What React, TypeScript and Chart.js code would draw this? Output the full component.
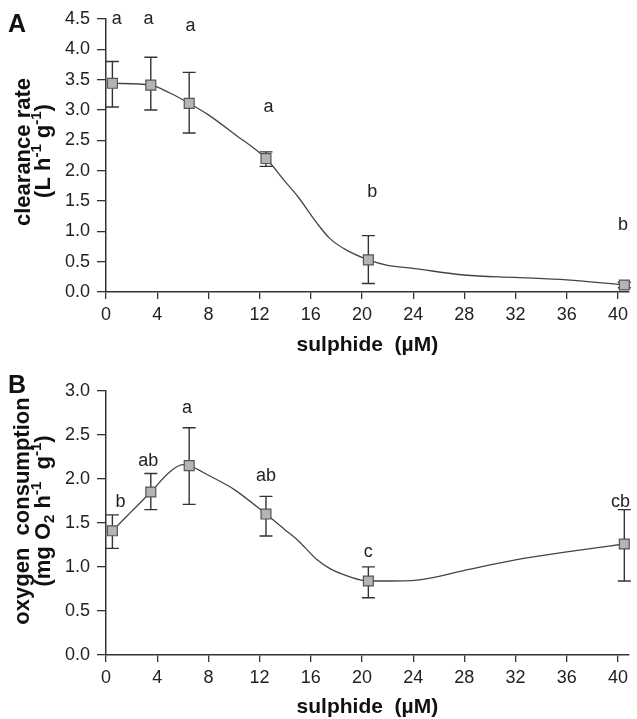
import React, { useEffect, useRef } from 'react';
import { Chart, registerables } from 'chart.js';

Chart.register(...registerables);

const FONT = "'Liberation Sans', Arial, Helvetica, sans-serif";

// ---------- data ----------
const sulphideDoses = [0.5, 3.5, 6.5, 12.5, 20.5, 40.5];
const xTickStep = 4;

// Panel A: clearance rate
const clearanceMean = [3.44, 3.41, 3.11, 2.2, 0.53, 0.115];
const clearanceLow = [3.05, 3.0, 2.62, 2.07, 0.14, 0.07];
const clearanceHigh = [3.8, 3.87, 3.62, 2.31, 0.93, 0.16];
const clearanceFitX = [0.5, 3.5, 5, 6.5, 8, 10, 12.5, 14, 15, 16.5, 17.5, 18.8, 20.5, 22, 24, 28, 32, 36, 40.5];
const clearanceFitY = [3.44, 3.41, 3.28, 3.11, 2.92, 2.61, 2.2, 1.82, 1.57, 1.13, 0.88, 0.69, 0.53, 0.44, 0.39, 0.28, 0.24, 0.2, 0.115];
const clearanceLetters = ['a', 'a', 'a', 'a', 'b', 'b'];
const clearanceLetterX = [0.85, 3.33, 6.6, 12.7, 20.8, 40.4];
const clearanceLetterY = [4.415, 4.415, 4.3, 2.96, 1.57, 1.02];
const clearanceTitle = ['clearance rate', '(L h^{-1} g^{-1})'];

// Panel B: oxygen consumption
const oxygenMean = [1.41, 1.85, 2.15, 1.6, 0.84, 1.26];
const oxygenLow = [1.21, 1.65, 1.71, 1.35, 0.65, 0.84];
const oxygenHigh = [1.59, 2.06, 2.58, 1.8, 1.0, 1.65];
const oxygenFitX = [0.5, 2, 3.5, 5, 6, 6.5, 8, 10, 12.5, 14, 15, 16.5, 17.5, 19, 20.5, 22, 24.3, 28, 32, 36, 40.5];
const oxygenFitY = [1.41, 1.63, 1.85, 2.08, 2.16, 2.15, 2.04, 1.88, 1.6, 1.42, 1.3, 1.08, 0.98, 0.89, 0.84, 0.84, 0.85, 0.96, 1.08, 1.17, 1.26];
const oxygenLetters = ['b', 'ab', 'a', 'ab', 'c', 'cb'];
const oxygenLetterX = [1.13, 3.3, 6.33, 12.5, 20.5, 40.2];
const oxygenLetterY = [1.68, 2.145, 2.75, 1.97, 1.11, 1.68];
const oxygenTitle = ['oxygen  consumption', '(mg O_{2} h^{-1}  g^{-1})'];

const xAxisTitle = 'sulphide  (µM)';

// ---------- helpers ----------
type Seg = { t: string; k: 'n' | 'sup' | 'sub' };
function parseRich(s: string): Seg[] {
  const out: Seg[] = [];
  let buf = '';
  let i = 0;
  while (i < s.length) {
    if ((s[i] === '^' || s[i] === '_') && s[i + 1] === '{') {
      if (buf) { out.push({ t: buf, k: 'n' }); buf = ''; }
      const end = s.indexOf('}', i);
      out.push({ t: s.slice(i + 2, end), k: s[i] === '^' ? 'sup' : 'sub' });
      i = end + 1;
    } else {
      buf += s[i];
      i++;
    }
  }
  if (buf) out.push({ t: buf, k: 'n' });
  return out;
}

function drawRotatedRich(ctx: CanvasRenderingContext2D, text: string, xBase: number, yCenter: number, size: number) {
  const segs = parseRich(text);
  const fontFor = (k: string) => `bold ${k === 'n' ? size : Math.round(size * 0.68)}px ${FONT}`;
  let total = 0;
  const widths = segs.map((s) => {
    ctx.font = fontFor(s.k);
    const w = ctx.measureText(s.t).width;
    total += w;
    return w;
  });
  ctx.save();
  ctx.translate(xBase, yCenter);
  ctx.rotate(-Math.PI / 2);
  ctx.textBaseline = 'alphabetic';
  ctx.textAlign = 'left';
  ctx.fillStyle = '#111';
  let x = -total / 2;
  segs.forEach((s, i) => {
    ctx.font = fontFor(s.k);
    const dy = s.k === 'sup' ? -size * 0.42 : s.k === 'sub' ? size * 0.2 : 0;
    ctx.fillText(s.t, x, dy);
    x += widths[i];
  });
  ctx.restore();
}

type PanelCfg = {
  height: number;
  padTop: number;
  xHeight: number;
  xTitlePad: number;
  yMax: number;
  mean: number[];
  low: number[];
  high: number[];
  fitX: number[];
  fitY: number[];
  letters: string[];
  letterX: number[];
  letterY: number[];
  title: string[];
  titleX: number[];
  titleY: number[];
  panel: string;
  panelBaseline: number;
};

function Panel({ cfg }: { cfg: PanelCfg }) {
  const ref = useRef<HTMLCanvasElement | null>(null);
  useEffect(() => {
    if (!ref.current) return;
    const annotate = {
      id: 'annotate',
      beforeDatasetDraw(chart: any, args: any) {
        if (args.index !== 0) return;
        const { ctx, scales } = chart;
        ctx.save();
        ctx.strokeStyle = '#333';
        ctx.lineWidth = 1.4;
        sulphideDoses.forEach((d, i) => {
          const x = scales.x.getPixelForValue(d);
          const y1 = scales.y.getPixelForValue(cfg.low[i]);
          const y2 = scales.y.getPixelForValue(cfg.high[i]);
          ctx.beginPath();
          ctx.moveTo(x, y1);
          ctx.lineTo(x, y2);
          ctx.moveTo(x - 6.5, y1);
          ctx.lineTo(x + 6.5, y1);
          ctx.moveTo(x - 6.5, y2);
          ctx.lineTo(x + 6.5, y2);
          ctx.stroke();
        });
        ctx.restore();
      },
      afterDraw(chart: any) {
        const { ctx, scales } = chart;
        ctx.save();
        ctx.fillStyle = '#222';
        ctx.font = `18px ${FONT}`;
        ctx.textAlign = 'center';
        ctx.textBaseline = 'alphabetic';
        cfg.letters.forEach((l, i) => {
          ctx.fillText(l, scales.x.getPixelForValue(cfg.letterX[i]), scales.y.getPixelForValue(cfg.letterY[i]));
        });
        ctx.font = `bold 25px ${FONT}`;
        ctx.textAlign = 'left';
        ctx.fillStyle = '#111';
        ctx.fillText(cfg.panel, 8, cfg.panelBaseline);
        ctx.restore();
        cfg.title.forEach((t, i) => drawRotatedRich(ctx, t, cfg.titleX[i], cfg.titleY[i], 22));
      },
    };
    const chart = new Chart(ref.current, {
      type: 'scatter',
      data: {
        datasets: [
          {
            data: sulphideDoses.map((d, i) => ({ x: d, y: cfg.mean[i] })),
            showLine: false,
            pointStyle: 'rect',
            pointRadius: 7,
            pointBackgroundColor: '#b4b4b4',
            pointBorderColor: '#555',
            pointBorderWidth: 1.2,
            clip: false,
          },
          {
            data: cfg.fitX.map((x, i) => ({ x, y: cfg.fitY[i] })),
            showLine: true,
            pointRadius: 0,
            borderColor: '#444',
            borderWidth: 1.3,
            cubicInterpolationMode: 'monotone',
            tension: 0.4,
            clip: false,
          },
        ],
      },
      options: {
        animation: false,
        responsive: false,
        devicePixelRatio: 1,
        layout: { padding: { top: cfg.padTop, left: 0, right: 0, bottom: 0 } },
        plugins: { legend: { display: false }, tooltip: { enabled: false } },
        scales: {
          x: {
            type: 'linear',
            min: 0,
            max: 40.85,
            afterFit: (s: any) => { s.height = cfg.xHeight; },
            ticks: {
              stepSize: xTickStep,
              includeBounds: false,
              autoSkip: false,
              maxRotation: 0,
              font: { family: FONT, size: 18 },
              color: '#222',
              padding: 5,
            },
            grid: { drawOnChartArea: false, drawTicks: true, tickLength: 7, color: '#333', lineWidth: 1.3 },
            border: { display: true, color: '#333', width: 1.5 },
            title: {
              display: true,
              text: xAxisTitle,
              color: '#111',
              font: { family: FONT, size: 21, weight: 'bold', lineHeight: 1 },
              padding: { top: 0, bottom: cfg.xTitlePad },
            },
          },
          y: {
            min: 0,
            max: cfg.yMax,
            afterFit: (s: any) => { s.width = 106; },
            ticks: {
              stepSize: 0.5,
              callback: (v: any) => Number(v).toFixed(1),
              font: { family: FONT, size: 18 },
              color: '#222',
              padding: 7,
            },
            grid: { drawOnChartArea: false, drawTicks: true, tickLength: 9, color: '#333', lineWidth: 1.3 },
            border: { display: true, color: '#333', width: 1.5 },
          },
        },
      } as any,
      plugins: [annotate],
    });
    return () => chart.destroy();
  }, [cfg]);
  return <canvas ref={ref} width={637} height={cfg.height} style={{ display: 'block' }} />;
}

const panelA: PanelCfg = {
  height: 360,
  padTop: 19,
  xHeight: 68,
  xTitlePad: 4.5,
  yMax: 4.5,
  mean: clearanceMean,
  low: clearanceLow,
  high: clearanceHigh,
  fitX: clearanceFitX,
  fitY: clearanceFitY,
  letters: clearanceLetters,
  letterX: clearanceLetterX,
  letterY: clearanceLetterY,
  title: clearanceTitle,
  titleX: [30, 50],
  titleY: [152, 151],
  panel: 'A',
  panelBaseline: 32,
};

const panelB: PanelCfg = {
  height: 359,
  padTop: 30.7,
  xHeight: 64,
  xTitlePad: 1,
  yMax: 3.0,
  mean: oxygenMean,
  low: oxygenLow,
  high: oxygenHigh,
  fitX: oxygenFitX,
  fitY: oxygenFitY,
  letters: oxygenLetters,
  letterX: oxygenLetterX,
  letterY: oxygenLetterY,
  title: oxygenTitle,
  titleX: [29, 50],
  titleY: [151, 151],
  panel: 'B',
  panelBaseline: 33,
};

export default function App() {
  useEffect(() => {
    document.body.style.margin = '0';
  }, []);
  return (
    <div style={{ width: 637, height: 719, overflow: 'hidden', background: '#fff' }}>
      <Panel cfg={panelA} />
      <Panel cfg={panelB} />
    </div>
  );
}
